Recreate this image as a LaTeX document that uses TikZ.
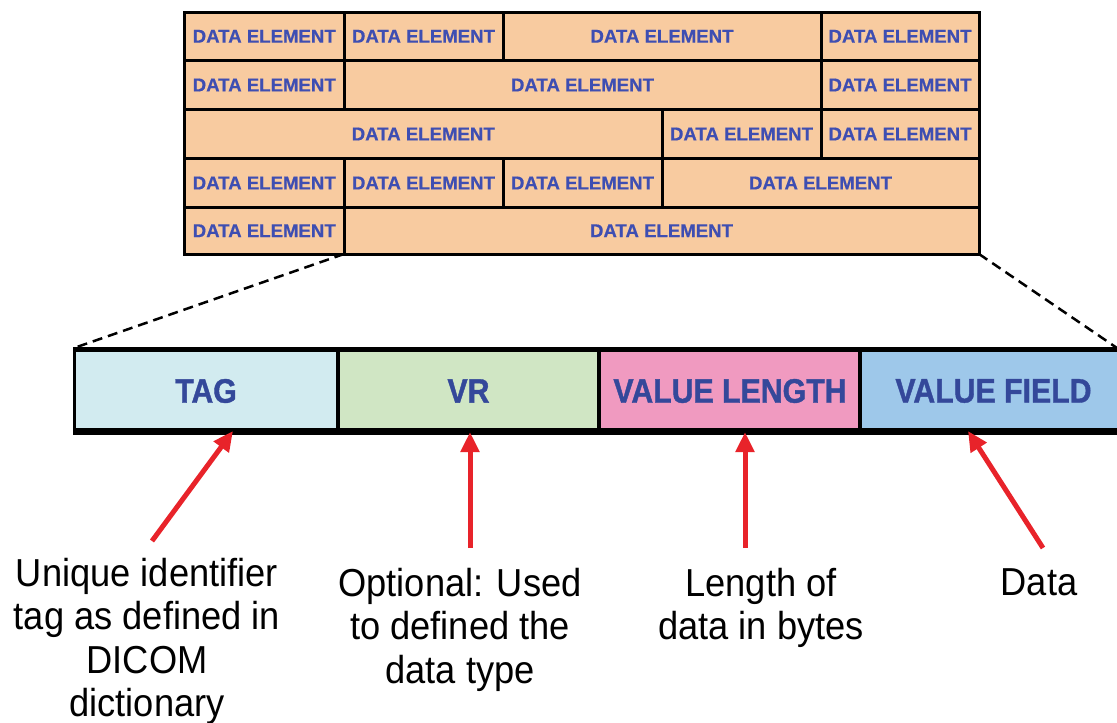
\documentclass[tikz,border=0pt]{standalone}
\usepackage{fontspec}
\setmainfont{Liberation Sans}
\newfontfamily\barfont{Liberation Sans}[FakeStretch=0.89,FakeBold=1.2]
\newfontfamily\gridfont{Liberation Sans}[FakeBold=0.6]
\newfontfamily\labfont{Liberation Sans}[FakeStretch=0.93]
\usetikzlibrary{arrows.meta}
\definecolor{peach}{RGB}{248,203,160}
\definecolor{gridblue}{RGB}{62,78,178}
\definecolor{barblue}{RGB}{52,72,154}
\definecolor{tagfill}{RGB}{210,235,240}
\definecolor{vrfill}{RGB}{208,230,196}
\definecolor{vlfill}{RGB}{240,154,192}
\definecolor{vffill}{RGB}{158,200,234}
\definecolor{arrowred}{RGB}{232,35,42}
\tikzset{
  cell/.style={draw=black, line width=3pt, fill=peach},
  celltext/.style={font=\gridfont\bfseries\fontsize{18.6}{20}\selectfont, text=gridblue, inner sep=0pt},
  barcell/.style={inner sep=0pt, font=\barfont\bfseries\fontsize{34}{40}\selectfont, text=barblue},
  label/.style={align=center, inner sep=0pt, anchor=north, font=\labfont\fontsize{39}{43.5}\selectfont, text=black},
  redarrow/.style={draw=arrowred, line width=5pt, -{Triangle[length=20pt,width=18pt]}},
  zoomline/.style={draw=black, line width=2.5pt, dash pattern=on 10pt off 6pt}
}
\begin{document}
\begin{tikzpicture}[x=1pt,y=-1pt]
\useasboundingbox (0,0) rectangle (1117,723);
% grid of data elements
\def\ca{184.5}\def\cb{344}\def\cc{503}\def\cd{662}\def\ce{821}\def\cf{979}
\def\ra{12}\def\rb{60.5}\def\rc{109.5}\def\rd{158.5}\def\re{207.5}\def\rf{254}
\newcommand{\dcell}[5]{%
  \path[cell] (#1,#2) rectangle (#3,#4);
  \node[celltext] (#5) at ({(#1+#3)/2},{(#2+#4)/2}) {DATA ELEMENT};}
\dcell{\ca}{\ra}{\cb}{\rb}{e11}
\dcell{\cb}{\ra}{\cc}{\rb}{e12}
\dcell{\cc}{\ra}{\ce}{\rb}{e13}
\dcell{\ce}{\ra}{\cf}{\rb}{e14}
\dcell{\ca}{\rb}{\cb}{\rc}{e21}
\dcell{\cb}{\rb}{\ce}{\rc}{e22}
\dcell{\ce}{\rb}{\cf}{\rc}{e23}
\dcell{\ca}{\rc}{\cd}{\rd}{e31}
\dcell{\cd}{\rc}{\ce}{\rd}{e32}
\dcell{\ce}{\rc}{\cf}{\rd}{e33}
\dcell{\ca}{\rd}{\cb}{\re}{e41}
\dcell{\cb}{\rd}{\cc}{\re}{e42}
\dcell{\cc}{\rd}{\cd}{\re}{e43}
\dcell{\cd}{\rd}{\cf}{\re}{e44}
\dcell{\ca}{\re}{\cb}{\rf}{e51}
\dcell{\cb}{\re}{\cf}{\rf}{e52}
\coordinate (gl) at (\cb,\rf);
\coordinate (gr) at (\cf,\rf);
% bar
\fill[black] (72.5,347) rectangle (1130,435);
\fill[tagfill] (76,352) rectangle (336,428);
\fill[vrfill] (340,352) rectangle (597,428);
\fill[vlfill] (601,352) rectangle (858,428);
\fill[vffill] (862,352) rectangle (1130,428);
\node[barcell] (tag) at (206,391) {TAG};
\node[barcell] (vr) at (468.5,391) {VR};
\node[barcell] (vl) at (730,391) {VALUE LENGTH};
\node[barcell] (vf) at (993.5,391) {VALUE FIELD};
\coordinate (bl) at (74,348);
\coordinate (br) at (1117,348);
\draw[zoomline] (gl) -- (bl);
\draw[zoomline] (gr) -- (br);
% labels
\node[label] (t1) at (147,558) {Unique identifier\\tag as defined in\\DICOM\\dictionary};
\node[label] (t2) at (460,568) {Optional: Used\\to defined the\\data type};
\node[label] (t3) at (761,568) {Length of\\data in bytes};
\node[label] (t4) at (1039,568) {Data};
% arrows
\coordinate (s1) at (152,541);
\coordinate (e1) at (233,431);
\coordinate (s2) at (470,548);
\coordinate (e2) at (470,432);
\coordinate (s3) at (745,548);
\coordinate (e3) at (745,432);
\coordinate (s4) at (1043,548);
\coordinate (e4) at (968,431);
\draw[redarrow] (s1) -- (e1);
\draw[redarrow] (s2) -- (e2);
\draw[redarrow] (s3) -- (e3);
\draw[redarrow] (s4) -- (e4);
\end{tikzpicture}
\end{document}
